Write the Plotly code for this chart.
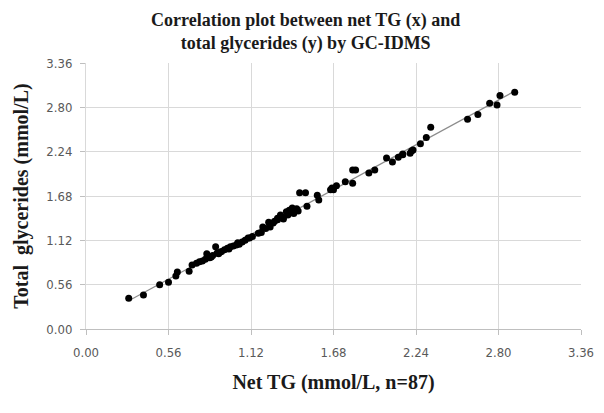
import numpy as np
import plotly.graph_objects as go

# net TG (x) and total glycerides (y), mmol/L
net_tg = [0.29, 0.39, 0.50, 0.56, 0.61, 0.62, 0.70, 0.72, 0.75, 0.77,
          0.79, 0.81, 0.82, 0.83, 0.85, 0.86, 0.88, 0.89, 0.91, 0.92,
          0.94, 0.96, 0.98, 1.00, 1.02, 1.04, 1.06, 1.08, 1.10, 1.11,
          1.17, 1.19, 1.20, 1.24, 1.25, 1.27, 1.30, 1.30, 1.32, 1.34,
          1.36, 1.37, 1.38, 1.40, 1.41, 1.43, 1.45, 1.49, 1.50, 1.57,
          1.58, 1.66, 1.67, 1.68, 1.70, 1.76, 1.81, 1.83, 1.81, 1.92,
          1.96, 2.04, 2.08, 2.12, 2.15, 2.15, 2.20, 2.21, 2.22, 2.27,
          2.31, 2.34, 2.59, 2.66, 2.74, 2.79, 2.81, 2.91,
          0.84, 0.90, 0.97, 1.03, 1.13, 1.22, 1.28, 1.34, 1.44]
total_gly = [0.39, 0.43, 0.56, 0.59, 0.67, 0.72, 0.73, 0.81, 0.83, 0.85,
             0.86, 0.88, 0.95, 0.91, 0.91, 0.93, 1.04, 0.96, 0.97, 0.98,
             1.00, 1.02, 1.04, 1.05, 1.06, 1.07, 1.10, 1.12, 1.15, 1.15,
             1.21, 1.22, 1.29, 1.35, 1.29, 1.34, 1.38, 1.40, 1.44, 1.41,
             1.48, 1.44, 1.50, 1.53, 1.46, 1.52, 1.72, 1.72, 1.55, 1.69,
             1.63, 1.76, 1.78, 1.76, 1.81, 1.86, 2.01, 2.01, 1.84, 1.97,
             2.01, 2.16, 2.11, 2.17, 2.20, 2.21, 2.22, 2.25, 2.26, 2.34,
             2.42, 2.55, 2.65, 2.71, 2.85, 2.83, 2.95, 2.99,
             0.90, 0.95, 1.01, 1.09, 1.17, 1.27, 1.36, 1.39, 1.49]

tick_vals = [0.00, 0.56, 1.12, 1.68, 2.24, 2.80, 3.36]
tick_text = [f"{v:.2f}" for v in tick_vals]

# linear trendline
slope, icpt = np.polyfit(net_tg, total_gly, 1)
line_x = [min(net_tg), max(net_tg)]
line_y = [slope * v + icpt for v in line_x]

fig = go.Figure()

fig.add_trace(go.Scatter(
    x=line_x, y=line_y, mode="lines",
    line=dict(color="#8c8c8c", width=1.2),
    hoverinfo="skip",
))

fig.add_trace(go.Scatter(
    x=net_tg, y=total_gly, mode="markers",
    marker=dict(color="black", size=7),
))

serif = "Liberation Serif, Times New Roman, serif"
tick_font = dict(family="Liberation Sans Narrow, DejaVu Sans Condensed, Roboto, sans-serif",
                 size=13, color="#595959")

# page body has an 8px margin, so the figure is a bit smaller than the window
fig.update_layout(
    width=596, height=405,
    margin=dict(l=78, r=23, t=55, b=84, autoexpand=False),
    plot_bgcolor="white",
    paper_bgcolor="white",
    showlegend=False,
)

# title as an annotation so both lines stay on the page
fig.add_annotation(
    text="<b>Correlation plot between net TG (x) and<br>total glycerides (y) by GC-IDMS</b>",
    xref="paper", yref="paper", x=0.444, y=1.117,
    xanchor="center", yanchor="middle", showarrow=False,
    font=dict(family=serif, size=18, color="#1a1a1a"),
)

fig.update_xaxes(
    range=[0, 3.36], tickvals=tick_vals, ticktext=tick_text,
    showgrid=True, gridcolor="#d9d9d9", gridwidth=1,
    zeroline=False, showline=True, linecolor="#bfbfbf",
    ticks="outside", ticklen=5, tickcolor="#bfbfbf",
    tickfont=tick_font, ticklabelstandoff=6,
    title=dict(text="<b>Net TG (mmol/L, n=87)</b>",
               font=dict(family=serif, size=20, color="#1a1a1a"), standoff=16),
)

fig.update_yaxes(
    range=[0, 3.36], tickvals=tick_vals, ticktext=tick_text,
    showgrid=True, gridcolor="#d9d9d9", gridwidth=1,
    zeroline=False, showline=True, linecolor="#d9d9d9",
    ticks="outside", ticklen=5, tickcolor="#bfbfbf",
    tickfont=tick_font, ticklabelstandoff=5,
    title=dict(text="<b>Total  glycerides (mmol/L)</b>",
               font=dict(family=serif, size=20, color="#1a1a1a"), standoff=12),
)

fig.write_html("out.html")
